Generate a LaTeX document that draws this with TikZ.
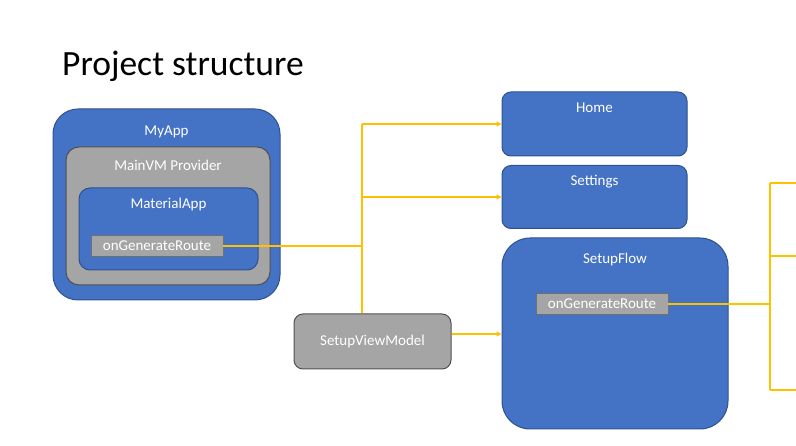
\documentclass[tikz,border=0pt]{standalone}
\usepackage{fontspec}
\setmainfont{Carlito}
\usetikzlibrary{arrows.meta}
\definecolor{bluefill}{HTML}{4472C4}
\definecolor{blueline}{HTML}{2F528F}
\definecolor{grayfill}{HTML}{A5A5A5}
\definecolor{grayline}{HTML}{505050}
\definecolor{rectline}{HTML}{707070}
\definecolor{gold}{HTML}{FFC000}
\tikzset{
  bluebox/.style={draw=blueline, fill=bluefill, line width=1pt, inner sep=0pt},
  graybox/.style={draw=grayline, fill=grayfill, line width=1pt, inner sep=0pt},
  routebox/.style={draw=rectline, fill=grayfill, line width=0.8pt, inner sep=0pt, minimum width=132pt, minimum height=21pt, text=white, font=\fontsize{15}{17}\selectfont},
  lbl/.style={text=white, font=\fontsize{15}{17}\selectfont, inner sep=0pt},
  conn/.style={draw=gold, line width=1.2pt},
  arr/.style={conn, -{Triangle[width=5pt,length=5pt]}},
}
\begin{document}
\begin{tikzpicture}[x=1pt,y=-1pt]
\useasboundingbox (0,0) rectangle (796,446);
% title
\node[anchor=base west, inner sep=0pt, font=\fontsize{35.5}{40}\selectfont] (title) at (62,76) {Project structure};

% MyApp
\node[bluebox, rounded corners=25pt, minimum width=227pt, minimum height=191pt] (myapp) at (166.5,204.5) {};
\node[lbl] (myappL) at (166.5,131.5) {MyApp};
\node[graybox, rounded corners=13pt, minimum width=204pt, minimum height=138pt] (mainvm) at (168,216) {};
\node[lbl] (mainvmL) at (168,165.5) {MainVM Provider};
\node[bluebox, rounded corners=11pt, minimum width=179pt, minimum height=82pt] (matapp) at (168.5,229) {};
\node[lbl] (matappL) at (168.5,205) {MaterialApp};
\node[routebox] (route1) at (157,246) {onGenerateRoute};

% right boxes
\node[bluebox, rounded corners=9pt, minimum width=185pt, minimum height=64pt] (home) at (594.5,124) {};
\node[lbl] (homeL) at (594.5,108) {Home};
\node[bluebox, rounded corners=9pt, minimum width=185pt, minimum height=63pt] (settings) at (594.5,197) {};
\node[lbl] (settingsL) at (594.5,181.5) {Settings};
\node[bluebox, rounded corners=28pt, minimum width=226pt, minimum height=191pt] (setupflow) at (615,333.5) {};
\node[lbl] (setupflowL) at (615,259.5) {SetupFlow};
\node[routebox] (route2) at (602,304) {onGenerateRoute};

\node[graybox, rounded corners=9pt, minimum width=157pt, minimum height=55pt, text=white, font=\fontsize{15}{17}\selectfont] (svm) at (372.5,341.5) {SetupViewModel};

% connectors
\coordinate (j1) at (362,246);
\coordinate (j2) at (770,304);
\coordinate (o1) at (796,183);
\coordinate (o2) at (796,256);
\coordinate (o3) at (796,390);
\draw[conn] (route1.east) -- (j1);
\draw[conn] (svm.north -| j1) -- (j1 |- home.west);
\draw[arr] (j1 |- home.west) -- (home.west);
\draw[arr] (j1 |- settings.west) -- (settings.west);
\draw[arr] (svm.east |- 0,334) -- (setupflow.west |- 0,334);
\draw[conn] (route2.east) -- (j2);
\draw[conn] (j2 |- o1) -- (j2 |- o3);
\draw[conn] (j2 |- o1) -- (o1);
\draw[conn] (j2 |- o2) -- (o2);
\draw[conn] (j2 |- o3) -- (o3);
\end{tikzpicture}
\end{document}
